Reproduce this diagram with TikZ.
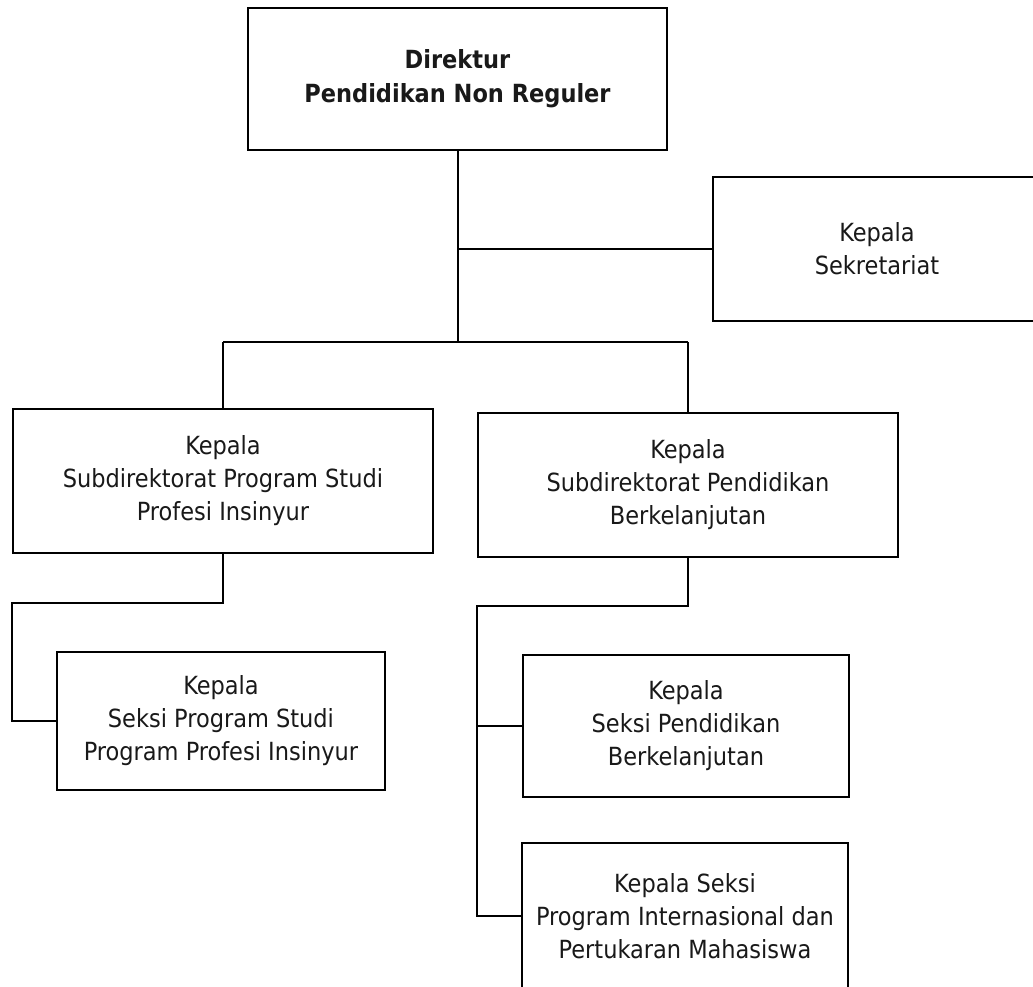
\documentclass[tikz,border=0pt]{standalone}
\usepackage{fontspec}
\setmainfont{DejaVu Sans Condensed}
\begin{document}
\begin{tikzpicture}[x=1pt,y=-1pt,
  unitbox/.style={draw=black, line width=2pt, inner sep=0pt, align=center,
    font=\fontsize{25}{33}\selectfont, text=black!90},
  link/.style={draw=black, line width=2pt}]
\clip (0,0) rectangle (1033,986);
\fill[white] (0,0) rectangle (1033,986);

% boxes
\node[unitbox, minimum width=419pt, minimum height=142pt, font=\bfseries\fontsize{25}{34}\selectfont]
  (dir) at (457.5,79) {Direktur\\Pendidikan Non Reguler};
\node[unitbox, minimum width=328pt, minimum height=144pt] (sek) at (877,249)
  {Kepala\\Sekretariat};
\node[unitbox, minimum width=420pt, minimum height=144pt] (A) at (223,481)
  {Kepala\\Subdirektorat Program Studi\\Profesi Insinyur};
\node[unitbox, minimum width=420pt, minimum height=144pt] (B) at (688,485)
  {Kepala\\Subdirektorat Pendidikan\\Berkelanjutan};
\node[unitbox, minimum width=328pt, minimum height=138pt] (C) at (221,721)
  {Kepala\\Seksi Program Studi\\Program Profesi Insinyur};
\node[unitbox, minimum width=326pt, minimum height=142pt] (D) at (686,726)
  {Kepala\\Seksi Pendidikan\\Berkelanjutan};
\node[unitbox, minimum width=326pt, minimum height=146pt] (E) at (685,916)
  {Kepala Seksi\\Program Internasional dan\\Pertukaran Mahasiswa};

% bend points of the connectors
\coordinate (busL) at (223,342);
\coordinate (busR) at (688,342);
\coordinate (aK) at (12,603);
\coordinate (bK) at (477,606);

% connectors
\draw[link] (dir.south) -- (dir.south |- busL);
\draw[link] (dir.south |- sek.west) -- (sek.west);
\draw[link] (busL) -- (busR);
\draw[link] (busL) -- (A.north);
\draw[link] (busR) -- (B.north);
\draw[link] (A.south) |- (aK) |- (C.west);
\draw[link] (B.south) |- (bK) |- (E.west);
\draw[link] (bK |- D.west) -- (D.west);
\end{tikzpicture}
\end{document}
